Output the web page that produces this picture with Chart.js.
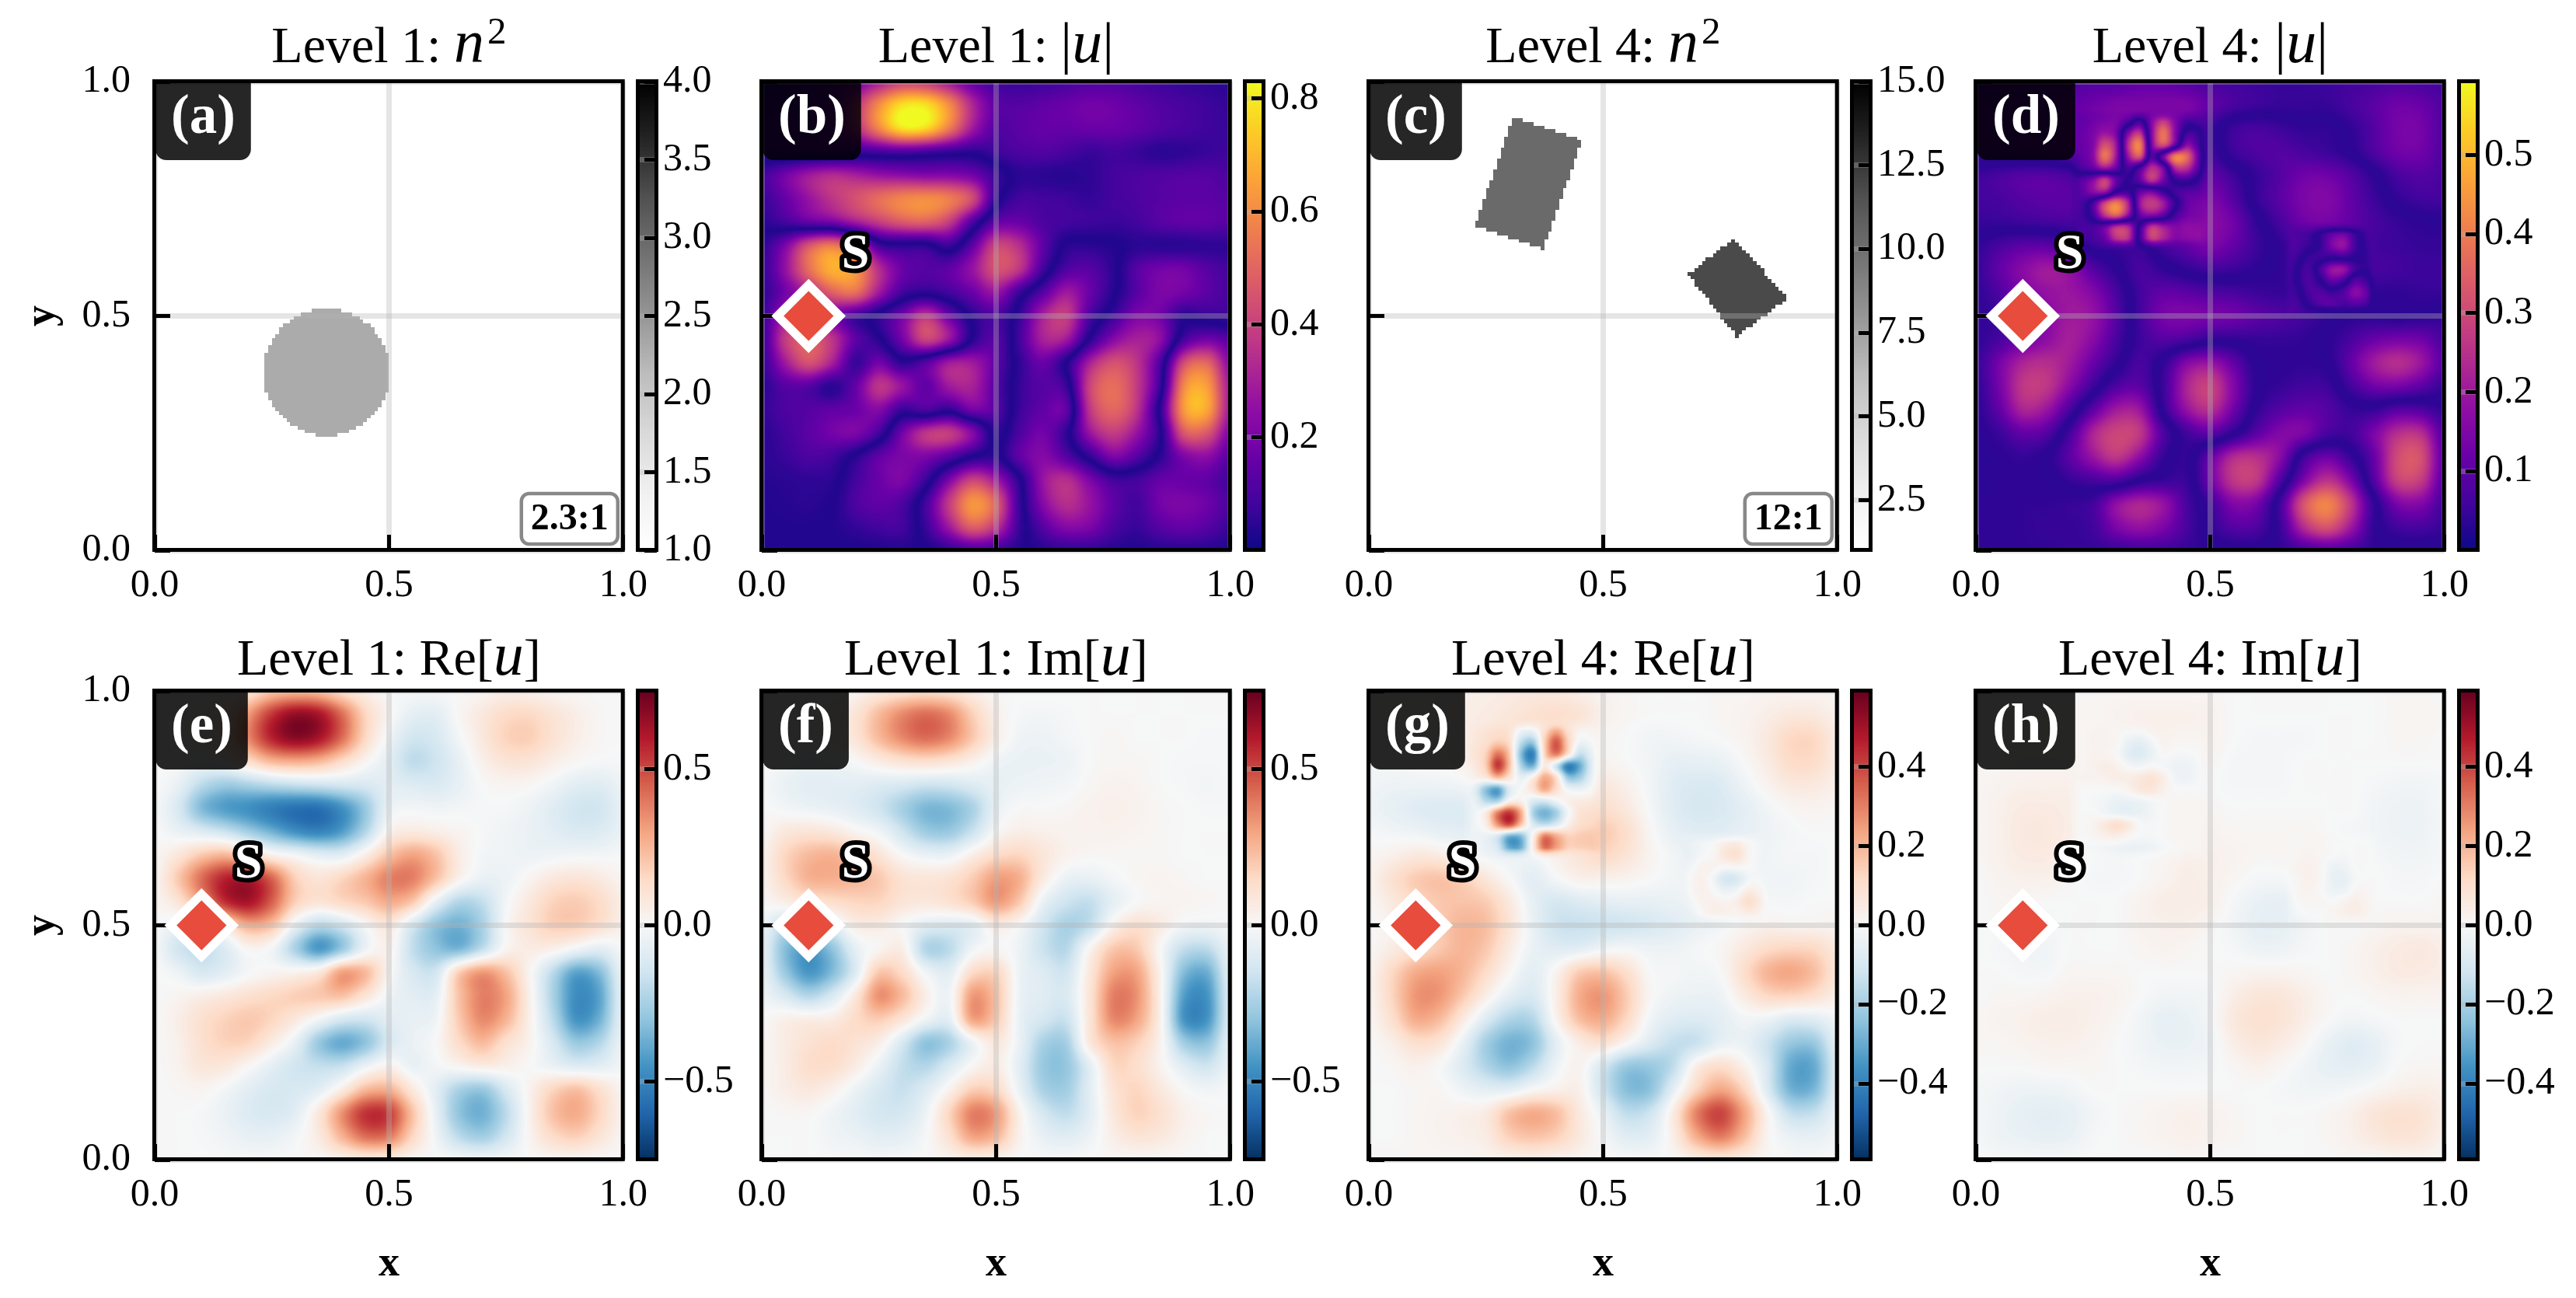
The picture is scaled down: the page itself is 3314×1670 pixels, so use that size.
<!DOCTYPE html>
<html>
<head>
<meta charset="utf-8">
<title>Level 1 e Level 4</title>
<style>
  body { margin: 0; background: #fff; }
  #quadro { position: relative; width: 3314px; height: 1670px; overflow: hidden; }
  canvas { position: absolute; }
</style>
<script src="https://cdn.jsdelivr.net/npm/chart.js@4/dist/chart.umd.min.js"></script>
</head>
<body>
<div id="quadro"></div>
<script>
// Eixos e barras de cor
const ticksEixo = [0, 0.5, 1];
const ticksNivel1N = [1, 1.5, 2, 2.5, 3, 3.5, 4];
const ticksNivel1Abs = [0.2, 0.4, 0.6, 0.8];
const ticksNivel4N = [2.5, 5, 7.5, 10, 12.5, 15];
const ticksNivel4Abs = [0.1, 0.2, 0.3, 0.4, 0.5];
const ticksNivel1Campo = [-0.5, 0, 0.5];
const ticksNivel4Campo = [-0.4, -0.2, 0, 0.2, 0.4];

// Mapas de cor
const corPlasma = ['#0d0887', '#41049d', '#6a00a8', '#8f0da4', '#b12a90', '#cc4778', '#e16462', '#f1844b', '#fca636', '#fcce25', '#f0f921'];
const corRdBu = ['#053061', '#2166ac', '#4393c3', '#92c5de', '#d1e5f0', '#f7f7f7', '#fddbc7', '#f4a582', '#d6604d', '#b2182b', '#67001f'];
const corGreys = ['#ffffff', '#f0f0f0', '#d9d9d9', '#bdbdbd', '#969696', '#737373', '#525252', '#252525', '#000000'];

// Meio: linha, coluna inicial e final, numa malha de 128 x 128 (linha 0 em baixo)
const valorDisco = 2.3;
const disco = [[31,44,49],[32,41,52],[33,39,54],[34,37,56],[35,36,57],[36,35,58],[37,34,59],[38,33,60],[39,32,61],[40,32,61],[41,31,62],[42,31,62],[43,30,63],[44,30,63],[45,30,63],[46,30,63],[47,30,63],[48,30,63],[49,30,63],[50,30,63],[51,30,63],[52,30,63],[53,30,63],[54,31,62],[55,31,62],[56,32,61],[57,32,61],[58,33,60],[59,34,59],[60,34,59],[61,35,58],[62,37,56],[63,38,55],[64,40,53],[65,43,50]];
const valorBloco1 = 10.2;
const bloco1 = [[82,47,47],[83,44,47],[84,41,47],[85,38,48],[86,35,48],[87,32,49],[88,29,49],[89,29,49],[90,30,50],[91,30,50],[92,30,50],[93,31,51],[94,31,51],[95,31,51],[96,32,52],[97,32,52],[98,32,52],[99,33,53],[100,33,53],[101,34,54],[102,34,54],[103,34,54],[104,35,55],[105,35,55],[106,35,55],[107,36,56],[108,36,56],[109,36,56],[110,37,57],[111,37,57],[112,37,56],[113,38,53],[114,38,50],[115,38,47],[116,39,44],[117,39,41]];
const valorBloco2 = 11.8;
const bloco2 = [[58,100,100],[59,100,101],[60,99,102],[61,98,104],[62,97,105],[63,96,106],[64,96,108],[65,95,109],[66,94,110],[67,93,112],[68,93,113],[69,92,113],[70,91,112],[71,90,111],[72,89,110],[73,89,109],[74,88,108],[75,87,107],[76,89,107],[77,90,106],[78,91,105],[79,92,104],[80,94,103],[81,95,102],[82,96,101],[83,98,100],[84,99,99]];

// Campos, em centésimos. Linhas de y = 1 a y = 0, colunas de x = 0 a x = 1, de 0.05 em 0.05.
// Nos painéis |u| o sinal só separa lóbulos vizinhos: o desenho usa o módulo.
const campoAbs1 = [
  [3,5,8,10,18,30,40,38,28,15,8,6,7,9,11,11,9,7,5,4,3],
  [5,8,10,15,35,60,78,78,60,32,14,12,14,16,18,17,14,11,9,7,5],
  [8,10,10,15,33,58,78,76,55,28,12,13,15,15,16,16,14,11,9,7,6],
  [6,8,8,8,6,8,10,8,5,3,7,10,11,9,6,8,6,3,4,6,7],
  [-8,-18,-28,-33,-30,-26,-24,-22,-22,-18,-6,3,3,2,4,8,10,11,12,12,10],
  [-6,-15,-26,-36,-44,-52,-58,-60,-56,-42,-4,8,8,7,5,8,10,12,13,13,12],
  [-3,-8,-14,-18,-28,-38,-46,-48,-38,-10,14,16,10,8,7,6,8,12,14,14,12],
  [4,20,45,55,40,8,3,3,-6,14,40,34,14,-2,-3,-1,3,3,3,4,4],
  [5,25,52,68,62,34,16,12,14,26,44,36,8,-10,-12,-3,12,18,18,12,8],
  [4,18,32,48,52,28,8,3,8,16,26,6,-12,-28,-16,-2,12,20,18,13,9],
  [6,28,30,20,8,-3,-18,-36,-16,3,10,-5,-30,-38,-10,6,20,18,3,5,6],
  [6,38,48,36,14,2,-18,-40,-26,2,12,-8,-30,-28,2,22,30,24,-8,-18,-12],
  [5,28,44,30,6,18,4,12,28,28,14,-4,-16,0,30,44,36,10,-42,-50,-22],
  [3,12,12,3,15,36,26,14,28,30,12,-5,-12,-6,40,52,38,6,-58,-64,-28],
  [5,10,12,14,16,22,6,10,4,18,12,-6,-14,-14,36,50,36,-3,-62,-66,-28],
  [3,8,13,18,20,8,-18,-36,-38,-22,3,-10,-18,-4,26,38,26,2,-45,-46,-20],
  [3,6,10,8,-2,-14,-20,-20,-12,0,3,-14,-22,-12,4,20,12,-3,-20,-24,-12],
  [2,3,4,3,-8,-16,-20,-6,20,40,28,2,-26,-34,-20,-8,-8,-15,-16,-14,-8],
  [1,2,3,0,-10,-14,-10,8,38,62,48,6,-22,-34,-26,-14,-8,-18,-20,-17,-10],
  [1,1,1,-1,-5,-8,-8,6,28,48,36,6,-12,-22,-20,-10,-6,-12,-15,-12,-6],
  [0,0,0,0,0,-1,-2,0,5,10,8,2,-3,-5,-5,-3,-1,-3,-3,-3,-1]
];
const campoAbs4 = [
  [5,5,5,6,7,8,8,10,10,8,6,5,4,3,3,4,5,6,7,6,5],
  [6,7,8,8,10,12,14,14,14,14,10,6,4,3,3,3,6,9,12,11,7],
  [6,7,8,8,10,13,14,14,12,10,4,-4,-6,-4,-2,-2,2,8,13,13,7],
  [5,6,7,7,9,10,10,9,8,8,5,-4,-7,-8,-6,-4,0,7,12,12,7],
  [-4,-6,-8,-8,-6,-2,2,3,5,9,10,4,-3,-8,-12,-12,-8,-1,6,8,6],
  [-5,-6,-8,-9,-9,-7,-4,2,6,10,14,8,-3,-9,-14,-15,-10,-4,2,5,5],
  [-3,-3,-4,-5,-6,-6,-3,2,6,12,16,12,2,-6,-12,-13,-10,-6,-3,-1,0],
  [2,6,9,9,5,-2,-3,-3,5,10,14,10,4,-2,-8,-8,-7,-5,-4,-3,-3],
  [3,10,16,20,17,8,1,-6,-2,2,5,4,1,-2,-6,6,-7,-6,-5,-4,-4],
  [2,7,14,18,19,15,6,-5,-10,-9,-7,-6,-4,-3,-4,-8,-2,-2,-2,-3,-3],
  [2,4,12,16,20,18,8,-5,-13,-14,-13,-12,-9,-7,-5,-2,1,1,0,1,2],
  [2,6,12,17,21,16,6,-4,-8,-6,-2,-2,-3,-3,-2,1,6,11,13,12,6],
  [3,13,22,24,20,11,2,-6,2,15,18,10,0,-1,-2,0,10,20,24,19,8],
  [2,13,26,26,16,4,-7,-9,4,22,28,15,1,-3,-5,-4,5,12,13,9,3],
  [1,10,22,19,6,-9,-20,-19,2,18,24,12,-2,-8,-10,-8,-3,-3,-8,-7,-2],
  [0,4,10,8,-5,-22,-29,-26,-7,5,9,1,-9,-15,-14,-6,-5,-14,-24,-24,-7],
  [0,1,3,0,-9,-19,-26,-17,-3,2,-10,-23,-24,-16,4,11,3,-11,-30,-31,-9],
  [0,1,1,1,-3,-6,-7,0,3,3,-12,-26,-26,-7,14,25,14,-8,-28,-27,-8],
  [1,1,2,2,3,5,17,22,18,6,-4,-15,-13,5,32,41,26,2,-14,-15,-5],
  [1,1,2,3,3,5,14,18,14,6,-2,-8,-7,4,24,32,20,2,-5,-6,-3],
  [2,2,2,2,3,3,4,5,5,3,1,0,0,2,6,8,6,2,1,1,1]
];
const campoRe1 = [
  [0,0,0,2,10,22,26,24,14,5,0,-1,-1,0,2,5,4,2,1,0,0],
  [0,1,2,10,32,54,66,62,42,16,2,-7,-8,1,8,14,15,10,5,1,0],
  [0,1,3,12,36,58,68,62,42,15,-3,-14,-12,-2,8,17,18,11,5,1,0],
  [0,-1,-3,1,13,25,28,25,14,2,-8,-19,-15,-6,4,10,10,5,1,-1,-1],
  [0,-6,-20,-27,-24,-20,-17,-15,-13,-12,-8,-10,-11,-6,0,2,1,-3,-8,-9,-4],
  [-1,-12,-33,-42,-46,-52,-56,-56,-46,-28,-5,-2,-3,-2,-1,-1,-4,-9,-14,-14,-6],
  [0,-5,-10,-16,-26,-36,-46,-50,-42,-22,3,7,5,2,-1,-3,-5,-8,-11,-10,-5],
  [1,9,20,25,16,4,-2,-8,-8,5,22,30,22,6,-2,-3,-4,-3,-2,-2,-1],
  [2,20,42,58,60,44,18,10,16,26,38,38,22,3,-5,-4,2,8,10,7,2],
  [2,10,30,55,62,45,18,10,15,20,28,20,-6,-22,-18,-2,8,17,19,14,5],
  [0,-5,-5,10,28,22,-5,-20,-14,0,8,-12,-30,-36,-24,0,10,18,18,12,4],
  [-1,-14,-18,-10,2,-2,-24,-43,-28,-4,3,-18,-30,-34,-18,2,6,4,-3,-8,-1],
  [0,-4,-12,-8,-1,2,3,8,30,24,2,-12,-14,18,32,22,2,-20,-40,-32,-5],
  [0,2,5,8,12,15,18,20,22,10,-3,-8,-7,22,38,30,4,-24,-47,-40,-6],
  [0,5,12,17,20,16,8,-2,-12,-14,-8,-6,-3,20,36,26,4,-20,-45,-36,-6],
  [0,4,12,17,16,6,-6,-28,-38,-30,-12,-5,0,14,24,12,3,-12,-28,-22,-4],
  [0,3,9,8,1,-7,-14,-18,-17,-5,3,-5,-2,2,6,4,0,-5,-10,-8,-2],
  [0,1,2,-2,-8,-12,-12,-8,6,24,26,8,-8,-24,-28,-12,3,16,22,12,2],
  [0,0,-1,-5,-10,-12,-8,8,34,54,52,22,-6,-30,-36,-20,3,22,28,16,3],
  [0,0,-1,-3,-6,-6,-2,7,26,42,40,16,-3,-20,-26,-14,2,14,18,10,2],
  [0,0,0,-1,-1,-1,0,1,4,7,6,2,0,-2,-3,-2,0,2,2,1,0]
];
const campoIm1 = [
  [0,0,0,1,3,8,12,14,12,6,1,0,0,0,0,0,0,0,0,0,0],
  [0,0,1,4,10,24,36,42,36,18,4,-1,-2,-1,0,0,0,0,0,0,0],
  [0,0,0,3,10,24,36,42,36,20,5,-3,-4,-2,0,1,0,0,0,-1,-1],
  [0,-2,-4,-3,0,6,11,13,10,4,-3,-5,-5,-4,0,1,1,0,-1,-1,-1],
  [-1,-5,-8,-8,-8,-10,-12,-15,-14,-10,-6,-4,-3,-2,1,3,2,0,-1,-2,-1],
  [0,-2,-4,-6,-9,-15,-25,-34,-33,-24,-6,0,0,1,3,4,3,1,0,-1,-1],
  [1,8,10,8,2,-3,-15,-27,-28,-16,0,5,4,3,3,3,2,1,0,0,0],
  [3,16,24,26,20,10,0,-5,-5,5,14,16,9,3,1,1,1,1,0,0,0],
  [3,15,26,27,25,20,11,9,11,19,31,27,7,-5,-6,-2,1,2,1,0,0],
  [1,5,10,13,16,16,10,8,11,19,32,20,-5,-15,-18,-7,0,2,2,1,0],
  [-4,-18,-15,-8,5,6,0,-8,-10,-7,6,0,-14,-24,-18,3,12,6,-2,-3,-1],
  [-6,-32,-42,-30,-7,2,5,-22,-20,-3,1,-4,-16,-21,2,20,20,0,-18,-20,-5],
  [-5,-28,-44,-33,-10,20,14,-3,-8,14,16,-4,-10,-14,8,30,30,3,-32,-37,-8],
  [-3,-12,-22,-12,8,34,24,5,-3,32,22,-4,-9,-11,10,38,34,4,-41,-45,-10],
  [0,4,5,6,14,19,10,-3,-7,30,20,-5,-13,-16,10,36,30,4,-44,-45,-10],
  [1,6,11,14,11,5,-12,-30,-24,-4,8,-5,-24,-25,8,22,18,3,-26,-30,-7],
  [1,6,13,13,6,-5,-18,-22,-11,1,6,-8,-28,-29,-8,15,13,3,-9,-15,-4],
  [1,5,8,4,-4,-12,-17,-10,3,18,15,-5,-24,-26,-8,10,16,8,0,-3,-1],
  [0,1,1,-3,-8,-13,-13,-4,16,38,32,4,-13,-19,-8,8,17,12,4,1,0],
  [0,0,0,-3,-5,-8,-7,-1,12,30,25,4,-6,-9,-4,5,10,8,3,0,0],
  [0,0,0,-1,-1,-2,-1,0,3,5,4,0,-1,-1,0,1,1,1,0,0,0]
];
const campoRe4 = [
  [1,1,1,2,3,4,5,6,6,4,2,1,0,0,0,1,1,2,2,2,1],
  [1,1,1,2,4,5,7,9,10,8,3,1,0,0,0,1,2,4,6,6,3],
  [0,0,0,1,3,6,8,9,6,3,1,0,-2,-2,-1,0,2,6,12,12,5],
  [-1,-1,0,1,3,5,5,4,3,3,2,0,-2,-5,-5,-4,0,5,11,11,5],
  [-2,-3,-3,-3,-2,0,0,0,2,4,6,3,-2,-7,-9,-8,-3,2,6,6,3],
  [-3,-5,-7,-8,-8,-6,-4,0,3,6,10,6,-1,-7,-10,-9,-6,-2,1,2,1],
  [-1,-2,-3,-5,-6,-6,-3,0,3,10,15,10,1,-5,-7,-7,-5,-3,-1,0,0],
  [1,3,6,5,1,-2,-3,-2,3,8,12,8,2,-2,-4,-5,-3,-2,-1,-1,0],
  [2,9,15,17,14,7,0,-6,-1,3,3,2,0,-2,-2,2,-2,-2,-2,-1,0],
  [1,6,12,16,17,15,6,-5,-10,-8,-6,-5,-5,-4,-3,-7,-2,-1,-1,0,0],
  [0,3,10,15,20,18,8,-4,-12,-13,-12,-11,-9,-7,-4,-2,1,3,2,2,2],
  [1,5,10,16,20,16,5,-4,-7,-6,-2,-1,-3,-3,-1,1,6,11,13,12,6],
  [2,12,22,24,20,11,1,-6,2,15,17,10,0,-1,-2,0,10,20,23,18,8],
  [2,13,26,26,16,4,-6,-9,4,22,26,15,1,-3,-4,-3,5,12,13,10,4],
  [1,10,22,19,6,-8,-18,-17,2,18,22,12,-2,-7,-8,-6,-2,-3,-8,-7,-2],
  [0,4,10,8,-4,-20,-28,-24,-6,5,9,1,-8,-14,-13,-5,-4,-12,-22,-22,-6],
  [0,1,3,0,-8,-18,-24,-16,-3,2,-10,-22,-22,-15,4,10,3,-10,-30,-30,-8],
  [0,0,1,1,-3,-6,-6,0,3,3,-12,-25,-24,-6,13,23,13,-8,-28,-27,-7],
  [0,0,1,2,3,5,17,22,18,6,-4,-15,-12,5,30,40,24,2,-14,-14,-4],
  [0,0,1,2,3,5,14,17,14,6,-1,-7,-6,4,22,31,19,2,-4,-5,-2],
  [1,1,1,1,1,2,3,4,3,2,0,-1,-1,1,5,7,5,1,-1,-1,0]
];
const campoIm4 = [
  [0,0,0,0,0,1,1,1,1,1,1,0,0,0,0,0,0,0,1,1,0],
  [0,1,1,1,1,1,2,3,3,3,2,0,0,0,0,0,0,0,1,1,1],
  [0,1,1,1,1,1,1,2,3,3,2,0,-1,-1,-1,0,0,0,1,1,0],
  [0,1,2,2,2,2,1,1,2,2,1,-1,-1,-1,0,0,0,0,0,0,0],
  [1,2,3,3,3,1,0,1,2,1,0,-1,-1,-1,0,0,0,-1,-2,-2,-1],
  [1,3,5,5,4,2,0,0,1,1,1,0,0,0,0,0,0,-2,-3,-3,-1],
  [1,3,6,6,4,1,0,0,1,2,2,1,1,1,1,0,-1,-2,-3,-3,-1],
  [1,3,5,5,3,0,-1,0,1,3,3,2,1,1,1,1,0,-1,-2,-2,-1],
  [0,2,3,3,1,-1,-1,0,2,4,3,1,-1,-1,1,0,0,0,-1,-1,0],
  [0,1,1,0,0,0,0,2,4,4,3,-1,-4,-5,-2,0,0,0,0,0,1],
  [0,0,-1,-1,0,0,0,2,3,3,1,-2,-5,-5,-2,0,0,1,2,2,2],
  [0,-1,-2,-2,0,0,0,1,2,1,0,-1,-3,-3,-1,0,1,3,5,6,4],
  [0,0,-1,-1,1,1,1,0,0,0,0,1,2,2,1,0,1,3,5,5,4],
  [0,1,1,2,3,3,2,0,-2,-2,-1,4,7,7,4,1,0,1,2,2,2],
  [1,2,3,4,4,3,1,-2,-5,-4,-1,6,9,8,4,0,-2,-1,0,0,0],
  [1,1,2,3,3,2,0,-2,-4,-4,-2,4,7,5,1,-4,-7,-5,-1,0,0],
  [0,0,0,1,1,1,0,-1,-2,-2,-1,1,3,1,-2,-5,-6,-4,0,1,1],
  [-1,-2,-3,-3,-2,0,0,0,0,0,0,0,0,-1,-2,-2,-1,1,3,4,3],
  [-1,-3,-5,-6,-5,-2,0,1,2,3,2,1,0,0,0,1,3,7,9,8,4],
  [-1,-3,-4,-5,-4,-1,0,1,2,3,2,1,0,0,0,1,3,6,8,7,3],
  [0,-1,-1,-1,-1,0,0,0,0,1,0,0,0,0,0,0,1,1,2,2,1]
];

// Detalhe da "flor": x de 0.20 a 0.50 e y de 0.94 a 0.64, de 0.025 em 0.025
const florAbs4 = [
  [8,9,10,11,12,10,6,10,14,13,10,9,9],
  [9,10,12,14,14,6,-5,15,27,15,5,6,7],
  [10,11,14,19,13,-14,-25,15,38,16,-4,-3,5],
  [10,11,15,31,18,-24,-40,13,31,10,-16,-6,5],
  [8,10,16,38,18,-18,-31,7,-13,-40,-36,-11,3],
  [6,6,10,18,10,-6,6,24,13,-22,-24,-8,4],
  [-4,-8,-15,-27,-10,0,10,25,13,-2,-5,2,7],
  [-5,-9,-16,-18,1,4,-10,-13,-4,5,8,9,10],
  [-5,-6,6,29,40,22,-18,-27,-20,-3,10,13,14],
  [-4,-5,5,25,34,16,-10,-15,-9,5,12,14,15],
  [-3,-6,-6,-11,-24,-22,3,25,20,15,17,17,18],
  [-2,-5,-6,-11,-25,-24,5,27,22,15,16,17,17],
  [3,0,-4,-8,-12,-12,0,10,8,7,8,9,10]
];
const florRe4 = [
  [4,5,6,8,7,3,1,6,10,8,5,5,5],
  [4,6,8,10,8,-3,-4,10,22,10,2,2,3],
  [5,7,10,15,10,-15,-22,14,37,14,-3,-1,2],
  [5,8,14,32,16,-25,-40,12,30,8,-14,-5,2],
  [3,6,15,42,18,-18,-28,5,-12,-40,-30,-8,1],
  [1,3,6,18,8,-5,4,22,10,-22,-20,-5,1],
  [-2,-6,-24,-32,-8,0,8,22,10,-2,-4,0,3],
  [-2,-4,-16,-18,2,3,-8,-10,-3,3,5,6,8],
  [-2,-2,5,30,42,22,-18,-28,-20,-2,8,10,12],
  [-2,-2,4,26,38,16,-8,-14,-8,3,10,12,14],
  [-1,-3,-4,-10,-28,-25,2,30,22,14,15,16,16],
  [0,-2,-4,-10,-30,-28,4,32,24,14,14,15,16],
  [2,0,-3,-6,-10,-10,0,8,6,5,6,7,8]
];
const florIm4 = [
  [1,1,1,2,2,2,2,3,3,3,3,2,2],
  [1,1,2,2,1,0,0,2,3,2,2,2,2],
  [1,1,2,2,1,-4,-6,-2,2,1,1,1,1],
  [1,1,2,2,0,-6,-8,-4,0,-1,-1,0,1],
  [1,1,3,4,3,-1,-2,0,-1,-3,-3,-1,1],
  [1,2,2,3,4,4,6,8,4,-2,-3,-1,1],
  [0,0,0,0,0,2,6,7,3,0,0,0,1],
  [0,0,-1,-2,-4,-4,-3,-1,0,1,1,1,1],
  [0,0,0,-2,-4,-5,-4,-2,0,1,1,1,1],
  [0,0,2,6,10,6,0,-1,0,1,1,1,1],
  [0,0,1,3,4,1,-1,-1,0,1,1,1,2],
  [0,-1,-1,-2,-3,-4,-4,-3,-1,0,1,1,2],
  [0,-1,-1,-1,-2,-2,-2,-1,0,0,1,1,2]
];
// Detalhe do "redemoinho": x de 0.66 a 0.86 e y de 0.70 a 0.50, de 0.025 em 0.025
const giroAbs4 = [
  [-7,-7,-7,-6,-5,-5,-6,-7,-7],
  [-8,-7,-5,2,10,12,3,-5,-7],
  [-9,-7,-3,3,14,18,5,-4,-7],
  [-9,-4,3,4,2,3,1,-3,-7],
  [-8,0,6,-6,-18,-18,-5,-2,-7],
  [-9,0,7,0,-10,-5,8,4,-5],
  [-9,-3,6,8,4,8,16,10,-2],
  [-10,-6,2,8,9,6,8,5,-4],
  [-10,-8,-3,-2,-1,2,-2,-4,-5]
];
const giroRe4 = [
  [-4,-4,-3,-2,-1,-1,-2,-3,-4],
  [-5,-4,-2,0,4,5,1,-2,-3],
  [-5,-4,-1,1,7,9,2,-2,-3],
  [-4,-2,2,2,0,1,0,-2,-3],
  [-4,0,3,-2,-10,-9,-2,-1,-3],
  [-4,0,3,0,-4,-2,4,2,-2],
  [-5,-2,2,3,2,4,10,5,-1],
  [-6,-4,0,3,3,2,4,2,-2],
  [-7,-6,-4,-2,-1,0,-1,-2,-3]
];
const giroIm4 = [
  [0,0,1,1,1,0,0,0,0],
  [0,1,1,1,0,0,0,0,0],
  [0,1,2,1,0,-1,0,0,0],
  [0,2,3,1,-3,-3,0,0,0],
  [0,1,3,1,-4,-5,-1,0,0],
  [0,1,2,0,-3,-3,1,1,0],
  [-1,0,1,1,0,2,4,2,0],
  [-2,-1,0,0,1,3,4,2,1],
  [-3,-2,-1,0,1,1,1,1,1]
];

const fonte = [0.1, 0.5];          // marcador em losango
const rotuloFonte = [0.2, 0.63];   // letra S

// Posição das colunas e linhas na página
const esquerdaColuna = [199, 980, 1761, 2542];
const topoLinha = [105, 889];
const baseTitulo = [80, 868];
const LADO = 603;
const GUARDA_ESQ = 199;
const GUARDA_TOPO = 105;
const SERIFA = '"Liberation Serif"';
const FUNDO_MODULO = 0.035; // nas linhas nodais o |u| nunca chega bem a zero

Chart.defaults.font.family = SERIFA;
Chart.defaults.color = '#000';

function hexParaRgb(h) {
  return [parseInt(h.slice(1, 3), 16), parseInt(h.slice(3, 5), 16), parseInt(h.slice(5, 7), 16)];
}

// Tabela de 256 cores a partir das âncoras do mapa
function criarTabela(ancoras) {
  const rgb = ancoras.map(hexParaRgb);
  const tabela = [];
  for (let i = 0; i < 256; i++) {
    const p = i / 255 * (rgb.length - 1);
    const a = Math.min(Math.floor(p), rgb.length - 2);
    const t = p - a;
    tabela.push([0, 1, 2].map(k => Math.round(rgb[a][k] * (1 - t) + rgb[a + 1][k] * t)));
  }
  return tabela;
}
const tabelaPlasma = criarTabela(corPlasma);
const tabelaRdBu = criarTabela(corRdBu);
const tabelaGreys = criarTabela(corGreys);

function corDe(tabela, v, min, max) {
  const i = Math.max(0, Math.min(255, Math.round((v - min) / (max - min) * 255)));
  return tabela[i];
}

function limitar(i, n) {
  return i < 0 ? 0 : (i >= n ? n - 1 : i);
}

// Suavização do desenho (como o interpolation do imshow), pesos de Catmull-Rom
function pesos(t) {
  return [-0.5 * t + t * t - 0.5 * t * t * t, 1 - 2.5 * t * t + 1.5 * t * t * t, 0.5 * t + 2 * t * t - 1.5 * t * t * t, -0.5 * t * t + 0.5 * t * t * t];
}

function lerGrade(g, u, v) {
  const i = Math.floor(u), j = Math.floor(v);
  const wx = pesos(u - i), wy = pesos(v - j);
  const nl = g.linhas.length, nc = g.linhas[0].length;
  let soma = 0;
  for (let b = 0; b < 4; b++) {
    const linha = g.linhas[limitar(j + b - 1, nl)];
    for (let a = 0; a < 4; a++) {
      soma += wx[a] * wy[b] * linha[limitar(i + a - 1, nc)];
    }
  }
  return soma;
}

function valorNoPonto(p, x, y) {
  let v = lerGrade(p.grade, (x - 0) / 0.05, (1 - y) / 0.05);
  for (const d of p.detalhes) {
    const u = (x - d.x0) / 0.025, w = (d.y0 - y) / 0.025;
    const nl = d.linhas.length - 1, nc = d.linhas[0].length - 1;
    const peso = Math.min(1, u, nc - u, w, nl - w);
    if (peso > 0) v = v * (1 - peso) + lerGrade(d, u, w) * peso;
  }
  return v / 100;
}

// Desenha o campo por baixo da grelha, pixel a pixel, usando as escalas do gráfico
const pluginCampo = {
  id: 'campo',
  beforeDraw(chart) {
    const p = chart.config.options.painel;
    const { ctx, chartArea: area, scales } = chart;
    if (p.blocos) {
      ctx.fillStyle = '#fff';
      ctx.fillRect(area.left, area.top, area.right - area.left, area.bottom - area.top);
      for (const b of p.blocos) {
        const c = corDe(tabelaGreys, b.valor, p.min, p.max);
        ctx.fillStyle = `rgb(${c[0]},${c[1]},${c[2]})`;
        for (const [lin, c0, c1] of b.celulas) {
          const x0 = Math.round(scales.x.getPixelForValue(c0 / 128));
          const x1 = Math.round(scales.x.getPixelForValue((c1 + 1) / 128));
          const y0 = Math.round(scales.y.getPixelForValue((lin + 1) / 128));
          const y1 = Math.round(scales.y.getPixelForValue(lin / 128));
          ctx.fillRect(x0, y0, x1 - x0, y1 - y0);
        }
      }
      return;
    }
    const l = Math.round(area.left), t = Math.round(area.top);
    const w = Math.round(area.right - area.left), h = Math.round(area.bottom - area.top);
    const img = ctx.createImageData(w, h);
    let k = 0;
    for (let py = 0; py < h; py++) {
      const y = scales.y.getValueForPixel(t + py + 0.5);
      for (let px = 0; px < w; px++) {
        const x = scales.x.getValueForPixel(l + px + 0.5);
        let v = valorNoPonto(p, x, y);
        if (p.modulo) v = Math.sqrt(v * v + FUNDO_MODULO * FUNDO_MODULO);
        const c = corDe(p.tabela, v, p.min, p.max);
        img.data[k++] = c[0]; img.data[k++] = c[1]; img.data[k++] = c[2]; img.data[k++] = 255;
      }
    }
    ctx.putImageData(img, l, t);
  }
};

function caixaRedonda(ctx, x, y, w, h, r) {
  ctx.beginPath();
  ctx.roundRect(x, y, w, h, r);
}

// Título com partes em fontes diferentes, etiquetas e moldura
const pluginAdornos = {
  id: 'adornos',
  afterDraw(chart) {
    const p = chart.config.options.painel;
    const { ctx, chartArea: area, scales } = chart;
    const l = area.left, t = area.top, w = area.right - area.left, h = area.bottom - area.top;

    if (p.mostrarFonte) {
      ctx.save();
      ctx.font = `bold 64px ${SERIFA}`;
      ctx.textAlign = 'center';
      ctx.textBaseline = 'middle';
      ctx.lineJoin = 'round';
      ctx.lineWidth = 12;
      ctx.strokeStyle = '#000';
      ctx.fillStyle = '#fff';
      const sx = scales.x.getPixelForValue(rotuloFonte[0]);
      const sy = scales.y.getPixelForValue(rotuloFonte[1]);
      ctx.strokeText('S', sx, sy);
      ctx.fillText('S', sx, sy);
      ctx.restore();
    }

    // etiqueta da letra do painel
    ctx.save();
    ctx.beginPath();
    ctx.rect(l, t, w, h);
    ctx.clip();
    ctx.font = `bold 71px ${SERIFA}`;
    const larg = ctx.measureText(p.letra).width + 40;
    ctx.fillStyle = 'rgba(0,0,0,0.85)';
    caixaRedonda(ctx, l + 1, t - 12, larg, 113, 14);
    ctx.fill();
    ctx.fillStyle = '#fff';
    ctx.textAlign = 'center';
    ctx.textBaseline = 'middle';
    ctx.fillText(p.letra, l + 1 + larg / 2, t + 48);
    ctx.restore();

    if (p.razao) {
      ctx.save();
      ctx.font = `bold 48px ${SERIFA}`;
      const lr = ctx.measureText(p.razao).width + 24;
      const rx = l + w - 7 - lr, ry = t + h - 8 - 65;
      ctx.fillStyle = 'rgba(255,255,255,0.95)';
      ctx.strokeStyle = '#888';
      ctx.lineWidth = 4.5;
      caixaRedonda(ctx, rx, ry, lr, 65, 10);
      ctx.fill();
      ctx.stroke();
      ctx.fillStyle = '#000';
      ctx.textAlign = 'center';
      ctx.textBaseline = 'middle';
      ctx.fillText(p.razao, rx + lr / 2, ry + 34);
      ctx.restore();
    }

    ctx.strokeStyle = '#000';
    ctx.lineWidth = 5;
    ctx.strokeRect(l - 0.5, t - 0.5, w, h);

    // título
    ctx.save();
    ctx.fillStyle = '#000';
    ctx.textBaseline = 'alphabetic';
    ctx.textAlign = 'left';
    let total = 0;
    for (const s of p.titulo) {
      ctx.font = s.f;
      total += ctx.measureText(s.t).width + (s.x || 0);
    }
    let x = l + w / 2 - total / 2;
    for (const s of p.titulo) {
      ctx.font = s.f;
      x += s.x || 0;
      ctx.fillText(s.t, x, p.baseY - (s.sobe || 0));
      x += ctx.measureText(s.t).width;
    }
    ctx.restore();
  }
};

const pluginBarra = {
  id: 'barra',
  beforeDraw(chart) {
    const p = chart.config.options.painel;
    const { ctx, chartArea: area, scales } = chart;
    for (let py = Math.round(area.top); py < area.bottom; py++) {
      const c = corDe(p.tabela, scales.y.getValueForPixel(py + 0.5), p.min, p.max);
      ctx.fillStyle = `rgb(${c[0]},${c[1]},${c[2]})`;
      ctx.fillRect(area.left, py, area.right - area.left, 1);
    }
  },
  afterDraw(chart) {
    const { ctx, chartArea: area } = chart;
    ctx.strokeStyle = '#000';
    ctx.lineWidth = 5;
    ctx.strokeRect(area.left - 0.5, area.top - 0.5, area.right - area.left, area.bottom - area.top);
  }
};

function grade(linhas) {
  return { linhas };
}

function novoCanvas(esq, topo, larg, alt) {
  const c = document.createElement('canvas');
  c.width = larg;
  c.height = alt;
  c.style.left = esq + 'px';
  c.style.top = topo + 'px';
  c.style.width = larg + 'px';
  c.style.height = alt + 'px';
  document.getElementById('quadro').appendChild(c);
  return c;
}

const grelha = { color: 'rgba(180,180,180,0.35)', lineWidth: 7, tickColor: '#000', tickWidth: 5 };

function criarPainel(p, col, lin) {
  const topoCanvas = topoLinha[lin] - GUARDA_TOPO;
  const altCanvas = lin === 0 ? 808 : 1670 - topoCanvas;
  const altEixoX = altCanvas - GUARDA_TOPO - LADO;
  const largCanvas = GUARDA_ESQ + LADO + 60;
  p.baseY = baseTitulo[lin] - topoCanvas;
  p.mostrarFonte = !p.blocos;

  const conjuntos = p.blocos ? [] : [{
    data: [{ x: fonte[0], y: fonte[1] }],
    pointStyle: 'rectRot',
    pointRadius: 40,
    pointBackgroundColor: '#e74c3c',
    pointBorderColor: '#fff',
    pointBorderWidth: 11,
    clip: false
  }];

  const principal = new Chart(novoCanvas(esquerdaColuna[col] - GUARDA_ESQ, topoCanvas, largCanvas, altCanvas), {
    type: 'scatter',
    data: { datasets: conjuntos },
    plugins: [pluginCampo, pluginAdornos],
    options: {
      painel: p,
      responsive: false,
      maintainAspectRatio: false,
      animation: false,
      devicePixelRatio: 1,
      events: [],
      layout: { autoPadding: false, padding: { top: GUARDA_TOPO, right: 60, left: 0, bottom: 0 } },
      plugins: { legend: { display: false }, tooltip: { enabled: false } },
      scales: {
        x: {
          type: 'linear', min: 0, max: 1,
          afterBuildTicks: s => { s.ticks = ticksEixo.map(value => ({ value })); },
          afterFit: s => { s.height = altEixoX; },
          border: { display: false },
          grid: { ...grelha, tickLength: -20 },
          ticks: { font: { size: 50, lineHeight: 1 }, padding: 41, maxRotation: 0, autoSkip: false, callback: v => v.toFixed(1) },
          title: { display: lin === 1, text: 'x', font: { size: 54, weight: 'bold', lineHeight: 1 }, padding: { top: 0, bottom: 16 } }
        },
        y: {
          type: 'linear', min: 0, max: 1,
          afterBuildTicks: s => { s.ticks = ticksEixo.map(value => ({ value })); },
          afterFit: s => { s.width = GUARDA_ESQ; },
          border: { display: false },
          grid: { ...grelha, tickLength: -20 },
          ticks: { display: col === 0, font: { size: 50, lineHeight: 1 }, padding: 51, autoSkip: false, callback: v => v.toFixed(1) },
          title: { display: col === 0, text: 'y', font: { size: 54, weight: 'bold', lineHeight: 1 }, padding: { top: 28, bottom: 0 } }
        }
      }
    }
  });

  // o layout rouba alguns pixels à direita: acerta a largura para a área ficar com LADO
  const falta = LADO - (principal.chartArea.right - principal.chartArea.left);
  if (Math.abs(falta) > 0.01) principal.resize(largCanvas + Math.round(falta), altCanvas);

  // barra de cor do painel
  new Chart(novoCanvas(esquerdaColuna[col] + 622 - 10, topoCanvas, 10 + 24 + 130, altCanvas), {
    type: 'scatter',
    data: { datasets: [] },
    plugins: [pluginBarra],
    options: {
      painel: p,
      responsive: false,
      animation: false,
      devicePixelRatio: 1,
      events: [],
      layout: { autoPadding: false, padding: { top: GUARDA_TOPO, right: 0, left: 10, bottom: altEixoX } },
      plugins: { legend: { display: false }, tooltip: { enabled: false } },
      scales: {
        x: { display: false },
        y: {
          type: 'linear', position: 'right', min: p.min, max: p.max,
          afterBuildTicks: s => { s.ticks = p.ticks.map(value => ({ value })); },
          afterFit: s => { s.width = 130; },
          border: { display: false },
          grid: { ...grelha, tickLength: -16 },
          ticks: {
            font: { size: 50, lineHeight: 1 }, padding: 24, autoSkip: false,
            callback: v => (v < 0 ? '\u2212' : '') + Math.abs(v).toFixed(1)
          }
        }
      }
    }
  });
}

// Partes dos títulos
const fTexto = `66px ${SERIFA}`;
const fMat = `italic 78px ${SERIFA}`;
const fBarra = `74px ${SERIFA}`;
const fExp = `49px ${SERIFA}`;
function tituloN(nivel) {
  return [{ t: `Level ${nivel}: `, f: fTexto }, { t: 'n', f: fMat }, { t: '2', f: fExp, sobe: 24, x: 4 }];
}
function tituloAbs(nivel) {
  return [{ t: `Level ${nivel}: `, f: fTexto }, { t: '|', f: fBarra }, { t: 'u', f: fMat }, { t: '|', f: fBarra }];
}
function tituloParte(nivel, nome) {
  return [{ t: `Level ${nivel}: ${nome}[`, f: fTexto }, { t: 'u', f: fMat }, { t: ']', f: fTexto }];
}

const detalhe = (linhas, x0, y0) => ({ linhas, x0, y0 });

criarPainel({ letra: '(a)', titulo: tituloN(1), razao: '2.3:1', tabela: tabelaGreys, min: 1, max: 4, ticks: ticksNivel1N,
  blocos: [{ valor: valorDisco, celulas: disco }] }, 0, 0);
criarPainel({ letra: '(b)', titulo: tituloAbs(1), tabela: tabelaPlasma, min: 0, max: 0.83, ticks: ticksNivel1Abs, modulo: true,
  grade: grade(campoAbs1), detalhes: [] }, 1, 0);
criarPainel({ letra: '(c)', titulo: tituloN(4), razao: '12:1', tabela: tabelaGreys, min: 1, max: 15, ticks: ticksNivel4N,
  blocos: [{ valor: valorBloco1, celulas: bloco1 }, { valor: valorBloco2, celulas: bloco2 }] }, 2, 0);
criarPainel({ letra: '(d)', titulo: tituloAbs(4), tabela: tabelaPlasma, min: 0, max: 0.593, ticks: ticksNivel4Abs, modulo: true,
  grade: grade(campoAbs4), detalhes: [detalhe(florAbs4, 0.2, 0.94), detalhe(giroAbs4, 0.66, 0.7)] }, 3, 0);
criarPainel({ letra: '(e)', titulo: tituloParte(1, 'Re'), tabela: tabelaRdBu, min: -0.75, max: 0.75, ticks: ticksNivel1Campo,
  grade: grade(campoRe1), detalhes: [] }, 0, 1);
criarPainel({ letra: '(f)', titulo: tituloParte(1, 'Im'), tabela: tabelaRdBu, min: -0.75, max: 0.75, ticks: ticksNivel1Campo,
  grade: grade(campoIm1), detalhes: [] }, 1, 1);
criarPainel({ letra: '(g)', titulo: tituloParte(4, 'Re'), tabela: tabelaRdBu, min: -0.592, max: 0.592, ticks: ticksNivel4Campo,
  grade: grade(campoRe4), detalhes: [detalhe(florRe4, 0.2, 0.94), detalhe(giroRe4, 0.66, 0.7)] }, 2, 1);
criarPainel({ letra: '(h)', titulo: tituloParte(4, 'Im'), tabela: tabelaRdBu, min: -0.592, max: 0.592, ticks: ticksNivel4Campo,
  grade: grade(campoIm4), detalhes: [detalhe(florIm4, 0.2, 0.94), detalhe(giroIm4, 0.66, 0.7)] }, 3, 1);
</script>
</body>
</html>
